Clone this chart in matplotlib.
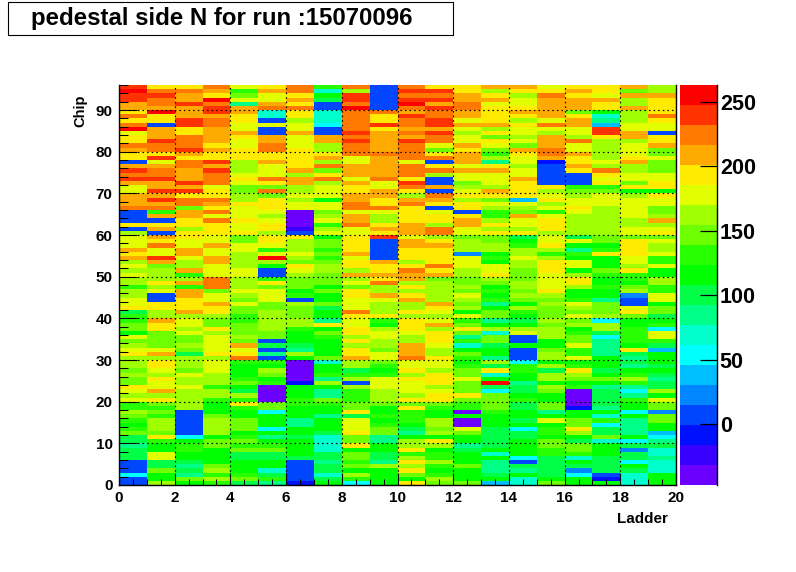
import matplotlib
matplotlib.use("Agg")
import matplotlib.pyplot as plt
import numpy as np
from matplotlib.colors import ListedColormap, BoundaryNorm
from matplotlib.patches import Rectangle
from matplotlib.ticker import MultipleLocator

plt.rcParams['font.family'] = ['Liberation Sans', 'DejaVu Sans']

title = "pedestal side N for run :15070096"
x_label = "Ladder"
y_label = "Chip"
palette = ["#6b00ff", "#3800ff", "#0010ff", "#0046ff", "#0087ff", "#00beff", "#00ffff",
           "#00ffcd", "#00ff87", "#00ff46", "#00ff00", "#28ff00", "#6eff00", "#a0ff00",
           "#e1ff00", "#ffeb00", "#ffaa00", "#ff7800", "#ff3200", "#ff0000"]
z_min = -47.0
z_max = 263.0
z_ticks = [0, 50, 100, 150, 200, 250]

# one string per ladder, chips 95 down to 0; each letter is a palette band (a lowest .. t highest)
ladder_00 = "stssqq" "prprtopprq" "ppdqsrsqoo" "qqqrdddpdn" "oooqpqnono" "nnlnnoopjl" "lmmkomnopn" "nnmnmmpono" "llnmlklmjj" "ijjjdddgdd"
ladder_01 = "prsrrq" "tppdqqqsrr" "psoqrrsqqs" "qsqrlqdpqd" "qproosqmnn" "npnoddppnn" "qppmmmmoqn" "pponpooqnp" "mlmlnnnmpl" "kkoojjmkkn"
ladder_02 = "prqqsq" "qqsspprrrs" "qprrqqqsqs" "prrmqqppnp" "pooqqonnql" "nqlqqpppqn" "oonommnmjn" "nnmonnonnn" "nnddddddgk" "llkkjijimk"
ladder_03 = "rqptrs" "sqrrqqqqpq" "ppsqsrrrop" "prqprorppp" "ooqooqqooo" "rrrmooqppn" "mmpnoooopn" "ooonnnlnnl" "kkkmnnnnkm" "mkkkkmnlnl"
ladder_04 = "olmoiq" "qppooqpoop" "ppnnnopomm" "nnpooopoop" "mmoonnnnoo" "nnnonmomml" "lmmmnmqopr" "lkkklmkjnl" "plkkmmmklm" "lmjjkkklmj"
ladder_05 = "pqooqr" "hhdoddqqrr" "ppqooorpmr" "mppponoppn" "ppolotnkdd" "lpmooommnn" "nnnmmdjdid" "lknmklaaaa" "mmgkkkgkik" "lmjjkkhjli"
ladder_06 = "rrpqpr" "ppnooqooop" "ppppqnqqnn" "onooaaaabd" "pnnnonmpon" "mmmkldnmmm" "nnlkkkjink" "aaaaackkkl" "lkkkiikkjk" "kkkjdddddc"
ladder_07 = "lhkjdd" "hhhgddqqnn" "pqnrmprnoo" "okoomnolno" "kmmlmlmnnm" "mmkmkkmjkk" "ipkmlkkkkm" "hkklinkiim" "lkkikkkjhh" "hhjjijjhjk"
ladder_08 = "rnssrt" "rrrrrsrsrr" "rooqqqoqpp" "qqrroqqroo" "ppppqoppnq" "nomppooorp" "ooppnpnppq" "nnjlndnlll" "mmpjooopmm" "pkmmlmknlg"
ladder_09 = "dddddd" "rppspqqqqq" "rqqqqqrooq" "qppronnpqp" "sdddddqppq" "prnnqonnnp" "lknoonnmoo" "mlklooonnn" "mkklklmmii" "kkjjinkkkk"
ladder_10 = "rsrstr" "qsrrqrqsrr" "rrorrrpsrp" "nqrppppqqq" "oqqpppnprq" "qnpnpqnnpn" "ppponnqqqr" "oopnpooonp" "mplllkjikn" "nplnpnpmkp"
ladder_11 = "psrsqs" "rrssqsrrom" "prdprnddqd" "rqpdoppnrr" "npqpppprpq" "mnnnnnqpon" "oqnppponnp" "oonpppnopp" "mlkknnmnkp" "nkllnlklnm"
ladder_12 = "ppqqrr" "qqoqonooqp" "qqqoqoomno" "pnppdpqqoo" "mnnneooonn" "mmnmonmnko" "lmpmilhkml" "klmmommmpm" "llakaaomkk" "ijkkkmkkkm"
ladder_13 = "qnpqop" "pppqnpmpom" "lnipqooonq" "pmonllnpnp" "mmnnklkoop" "nmklklikmm" "iknhmmjkki" "njphktjgmm" "mmlkkkjjjj" "jkhkiiijkf"
ladder_14 = "qpnoop" "qpnpoonomq" "poonooqppp" "pfonmqoonp" "jklnnonnmm" "mnnmnmknlk" "jknoddkddd" "gllkkijjkl" "jjkkjkgjjk" "kkkgdjikhh"
ladder_15 = "oprqqq" "qqoronqqqr" "rqcdddddpn" "opnolopppn" "oopnlnpppo" "ooopnmnmmm" "nmnnnkkmnn" "knjnnknmkk" "mmikokllkm" "mlljjjjjkm"
ladder_16 = "pqpqqq" "mpqqoonroo" "qppqpdddlm" "nooponnnnn" "jokilkookn" "ppnkklonmo" "mnklmmollo" "klpnmklaaa" "ackkmmpnkj" "mmlhkjegkk"
ladder_17 = "ppoqpp" "khifsspnnn" "nnonrpoplm" "ooonnnnnnn" "mmklpkkkml" "kklkkimmmn" "gnnjgiiiik" "kkjkmkijjj" "jikhlgjjmh" "kkkjjjjdck"
ladder_18 = "qmqnnq" "nnnooqqnoo" "opqnnoompk" "nooooonnoo" "mppppoonpl" "lkmneddopm" "kkllllkpji" "jiklnligil" "kkgkiiiikg" "jejjgkjhhh"
ladder_19 = "nnqppp" "prpoodppqm" "mommmooppk" "poommnqnop" "monnollokk" "nnllookmmj" "klgooljfkk" "kjkjijjnko" "mmemmkkfgi" "jhhihhhkkk"

ladders = [ladder_00, ladder_01, ladder_02, ladder_03, ladder_04, ladder_05, ladder_06,
           ladder_07, ladder_08, ladder_09, ladder_10, ladder_11, ladder_12, ladder_13,
           ladder_14, ladder_15, ladder_16, ladder_17, ladder_18, ladder_19]
for s in ladders:
    assert len(s) == 96, len(s)

W, H = 796, 572
fig = plt.figure(figsize=(W / 100, H / 100), dpi=100)
ax = fig.add_axes([119 / W, 1 - 485 / H, 557 / W, 400 / H])
cax = fig.add_axes([680 / W, 1 - 485 / H, 37 / W, 400 / H])

n = len(palette)
bounds = np.linspace(z_min, z_max, n + 1)
centres = (bounds[:-1] + bounds[1:]) / 2
cmap = ListedColormap(palette)
norm = BoundaryNorm(bounds, n)
Z = np.array([[centres[ord(c) - ord('a')] for c in s[::-1]] for s in ladders]).T

mesh = ax.pcolormesh(np.arange(21), np.arange(97), Z, cmap=cmap, norm=norm, edgecolors='none')
ax.set_xlim(0, 20)
ax.set_ylim(0, 96)
ax.spines['top'].set_visible(False)
for k in ('left', 'right', 'bottom'):
    ax.spines[k].set_linewidth(1.0)

ax.xaxis.set_major_locator(MultipleLocator(2))
ax.xaxis.set_minor_locator(MultipleLocator(0.5))
ax.yaxis.set_major_locator(MultipleLocator(10))
ax.yaxis.set_minor_locator(MultipleLocator(2))
ax.tick_params(axis='x', which='major', direction='in', length=8.5, width=0.75, labelsize=11, pad=4)
ax.tick_params(axis='x', which='minor', direction='in', length=4.3, width=0.75)
ax.tick_params(axis='y', which='major', direction='in', length=13, width=0.75, labelsize=11, pad=4.5)
ax.tick_params(axis='y', which='minor', direction='in', length=6.5, width=0.75)
for lab in ax.get_xticklabels() + ax.get_yticklabels():
    lab.set_fontweight('bold')
ax.set_axisbelow(False)
ax.grid(True, which='major', color='black', linestyle=(0, (1.3, 2.6)), linewidth=0.85)

fig.text(668 / W, 1 - 519 / H, x_label, ha='right', va='center', fontsize=11, fontweight='bold')
fig.text(80 / W, 1 - 127 / H, y_label, ha='center', va='bottom', rotation=90, fontsize=10.5, fontweight='bold')

cb = fig.colorbar(mesh, cax=cax, boundaries=bounds, ticks=z_ticks, spacing='proportional')
cb.outline.set_visible(False)
cax.yaxis.set_ticks_position('right')
cax.tick_params(axis='y', which='major', direction='in', length=12.5, width=0.9, labelsize=15.5, pad=2)
cax.minorticks_off()
for lab in cax.get_yticklabels():
    lab.set_fontweight('bold')
fig.add_artist(plt.Line2D([717 / W, 717 / W], [1 - 485 / H, 1 - 85 / H], color='black', linewidth=1.0))

fig.add_artist(Rectangle((8 / W, 1 - 35 / H), 445 / W, 33 / H, transform=fig.transFigure,
                         facecolor='white', edgecolor='black', linewidth=0.8))
fig.text(31 / W, 1 - 18 / H, title, ha='left', va='center', fontsize=17.3, fontweight='bold')

fig.savefig("out.png", dpi=100)
